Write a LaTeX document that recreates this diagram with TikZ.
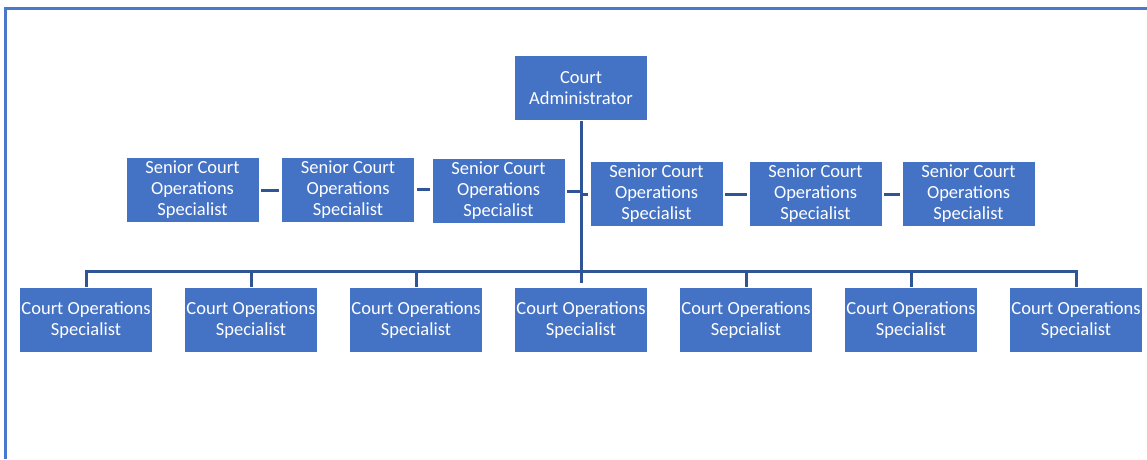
\documentclass[tikz,border=0pt]{standalone}
\usepackage{fontspec}
\setmainfont{Carlito}
\definecolor{boxblue}{HTML}{4472C4}
\definecolor{lineblue}{HTML}{2F5597}
\definecolor{frameblue}{HTML}{4A78CA}
\tikzset{
	orgbox/.style={rectangle,fill=boxblue,draw=white,line width=0.6pt,text=white,align=center,
		minimum width=133pt,minimum height=65pt,inner sep=0pt,font=\fontsize{18.5}{21}\selectfont},
	orgline/.style={draw=lineblue,line width=3pt}
}
\begin{document}
\begin{tikzpicture}[x=1pt,y=-1pt]
				\useasboundingbox (0,0) rectangle (1147,459);
				\draw[frameblue,line width=3pt] (5,459) -- (5,8) -- (1147,8);
				
				\node[orgbox] (admin) at (581,88) {Court\\Administrator};
				
				\node[orgbox] (s1) at (192.5,190) {Senior Court\\Operations\\Specialist};
				\node[orgbox] (s2) at (348,189.5) {Senior Court\\Operations\\Specialist};
				\node[orgbox] (s3) at (498.5,191) {Senior Court\\Operations\\Specialist};
				\node[orgbox] (s4) at (656.5,194) {Senior Court\\Operations\\Specialist};
				\node[orgbox] (s5) at (815.5,194) {Senior Court\\Operations\\Specialist};
				\node[orgbox] (s6) at (968.5,194) {Senior Court\\Operations\\Specialist};
				
				\node[orgbox] (c1) at (86,320) {Court Operations\\Specialist};
				\node[orgbox] (c2) at (251,320) {Court Operations\\Specialist};
				\node[orgbox] (c3) at (416,320) {Court Operations\\Specialist};
				\node[orgbox] (c4) at (581,320) {Court Operations\\Specialist};
				\node[orgbox] (c5) at (746,320) {Court Operations\\Sepcialist};
				\node[orgbox] (c6) at (911,320) {Court Operations\\Specialist};
				\node[orgbox] (c7) at (1076,320) {Court Operations\\Specialist};
				
				\coordinate (bus) at (581,271);
				\coordinate (trunkend) at (581,283);
				
				% trunk and bus
				\draw[orgline] (admin.south) -- (trunkend);
				\draw[orgline] (c1.north) -- (c1.north |- bus) -- (c7.north |- bus) -- (c7.north);
				\draw[orgline] (c2.north) -- (c2.north |- bus);
				\draw[orgline] (c3.north) -- (c3.north |- bus);
				\draw[orgline] (c5.north) -- (c5.north |- bus);
				\draw[orgline] (c6.north) -- (c6.north |- bus);
				
				% senior row
				\draw[orgline,shorten <=2pt,shorten >=2pt] (s1.east) -- (s2.west |- s1.east);
				\draw[orgline,shorten <=2pt,shorten >=2pt] (s2.east) -- (s3.west |- s2.east);
				\draw[orgline,shorten <=2pt] (s3.east) -- (s3.east -| bus);
				\draw[orgline,shorten <=2pt] (s4.west) -- (s4.west -| bus);
				\draw[orgline,shorten <=2pt,shorten >=2pt] (s4.east) -- (s5.west);
				\draw[orgline,shorten <=2pt,shorten >=2pt] (s5.east) -- (s6.west);
\end{tikzpicture}
\end{document}
